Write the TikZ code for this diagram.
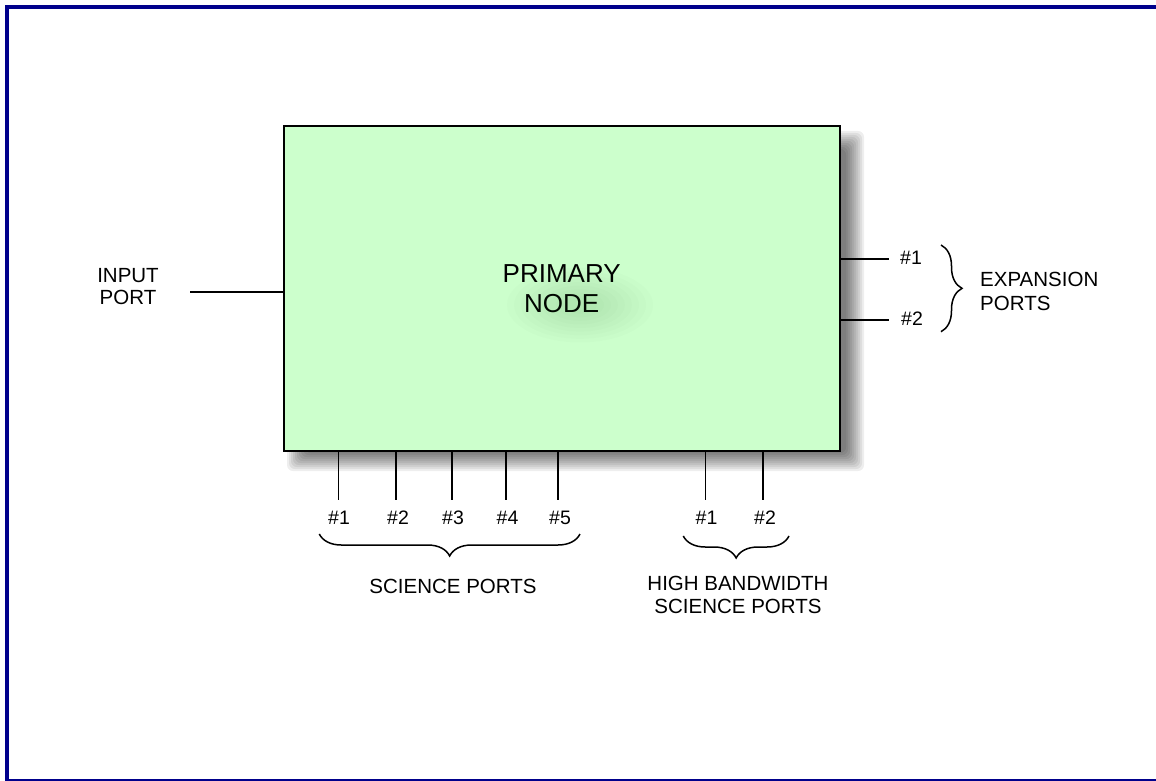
\documentclass[tikz,border=0pt]{standalone}
\usepackage{fontspec}
\setmainfont{Liberation Sans}
\usetikzlibrary{decorations.pathreplacing}
\definecolor{navyframe}{RGB}{0,0,140}
\definecolor{boxgreen}{RGB}{204,255,204}
\definecolor{shadowgreen}{RGB}{40,110,40}
\begin{document}
\begin{tikzpicture}[x=1pt,y=-1pt,
  lbl/.style={inner sep=0pt, font=\fontsize{20.5}{24}\selectfont, align=center},
  num/.style={inner sep=0pt, font=\fontsize{19.5}{22}\selectfont, anchor=base},
  port/.style={line width=1.6pt},
  bracepath/.style={decorate, decoration={brace, amplitude=22pt}, line width=1.5pt},
]
\useasboundingbox (0,0) rectangle (1156,781);
\fill[white] (0,0) rectangle (1156,781);
% drop shadow of the main box
\foreach \d in {-9,-7,...,9} {
  \fill[black, opacity=0.067, rounded corners=6pt] ({296-(\d)},{140-(\d)}) rectangle ({855+\d},{462+\d});
}
% main box
\node[draw, line width=2.2pt, fill=boxgreen, minimum width=556.2pt, minimum height=325pt,
      inner sep=0pt, anchor=north west, font=\fontsize{26}{30}\selectfont, align=center]
      (main) at (282.5,125) {PRIMARY\\NODE};
% soft text shadow
\foreach \r in {1,...,9} {
  \fill[shadowgreen, opacity=0.016] (580,305) ellipse ({10+7*\r} and {5+3.6*\r});
}
% frame
\draw[navyframe, line width=4.3pt] (7,7) rectangle (1162,781.2);
% input port
\node[lbl, font=\fontsize{20.5}{21.7}\selectfont] (inp) at (128,286.7) {INPUT\\PORT};
\coordinate (inend) at (190,291.7);
\draw[port] (inend) -- (main.west |- inend);
% expansion ports
\coordinate (e1) at (889,258.7);
\coordinate (e2) at (889,320);
\draw[port] (main.east |- e1) -- (e1);
\draw[port] (main.east |- e2) -- (e2);
\node[num] (e1l) at (911,264.7) {\#1};
\node[num] (e2l) at (912,325.7) {\#2};
\draw[bracepath, decoration={amplitude=21pt}] (941,245) -- (941,331.7);
\node[lbl, align=left, anchor=west, font=\fontsize{20.5}{24.3}\selectfont] (exp) at (980,291.3) {EXPANSION\\PORTS};
% science ports
\foreach \lx/\tx [count=\i] in {338.3/339, 396/398, 451.7/453, 506/507.5, 557.7/560} {
  \coordinate (s\i) at (\lx,500);
  \draw[port] (main.south -| s\i) -- (s\i);
  \node[num] (sl\i) at (\tx,524) {\#\i};
}
\draw[bracepath] (580,534) -- (319.3,534);
\node[lbl, anchor=base] (sci) at (453,593.3) {SCIENCE PORTS};
% high bandwidth science ports
\foreach \lx/\tx [count=\i] in {705.3/706.5, 762.7/765} {
  \coordinate (h\i) at (\lx,500);
  \draw[port] (main.south -| h\i) -- (h\i);
  \node[num] (hl\i) at (\tx,524) {\#\i};
}
\draw[bracepath] (789,536) -- (683.3,536);
\node[lbl, font=\fontsize{20.5}{23.3}\selectfont] (hb) at (738,594.8) {HIGH BANDWIDTH\\SCIENCE PORTS};
\end{tikzpicture}
\end{document}
